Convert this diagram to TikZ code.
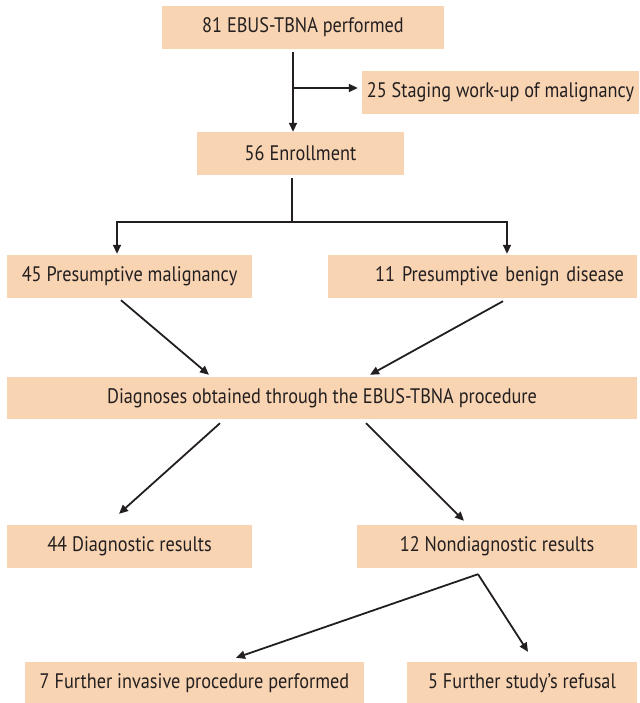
\documentclass[tikz,border=0pt]{standalone}
\usepackage{fontspec}
\setmainfont[FakeStretch=0.87]{PT Sans}
\usetikzlibrary{arrows.meta}
\definecolor{peach}{RGB}{248,212,178}
\definecolor{ink}{RGB}{35,31,32}
\tikzset{
  box/.style={fill=peach, draw=none, minimum height=43pt, inner sep=0pt, text=ink, font=\fontsize{21}{23}\selectfont, anchor=center},
  arr/.style={draw=ink, line width=1.8pt, -{Triangle[length=9pt,width=8pt]}},
  ln/.style={draw=ink, line width=1.8pt}
}
\begin{document}
\begin{tikzpicture}[x=1pt,y=-1pt]
\useasboundingbox (0,0) rectangle (639,703);
\node[box, minimum width=282pt] (b1) at (303,27.5) {81 EBUS-TBNA performed};
\node[box, minimum width=277pt] (stg) at (500.5,92.5) {25 Staging work-up of malignancy};
\node[box, minimum width=207pt] (enr) at (300.5,153.5) {56 Enrollment};
\node[box, minimum width=245pt] (m45) at (129.5,276.5) {45 Presumptive malignancy};
\node[box, minimum width=309pt, text width=283pt, inner xsep=13pt, align=right] (b11) at (482.5,276.5) {11 Presumptive benign disease};
\node[box, minimum width=630pt, minimum height=42pt] (dg) at (322,398) {Diagnoses obtained through the EBUS-TBNA procedure};
\node[box, minimum width=245pt] (d44) at (129.5,546.5) {44 Diagnostic results};
\node[box, minimum width=280pt] (n12) at (497,546.5) {12 Nondiagnostic results};
\node[box, minimum width=339pt] (f7) at (194.5,683.5) {7 Further invasive procedure performed};
\node[box, minimum width=230pt] (r5) at (522,683.5) {5 Further study’s refusal};

\coordinate (j1) at (293,88);
\coordinate (j2) at (292,222);
\draw[arr] ([xshift=-10pt,yshift=-3pt]b1.south) -- ([xshift=-7.5pt]enr.north);
\draw[arr, shorten >=4pt] (j1) -- (j1 -| stg.west);
\draw[ln] ([xshift=-8.5pt,yshift=-3pt]enr.south) -- (j2);
\draw[arr, shorten >=1pt] (j2) -| ([xshift=-12.5pt]m45.north);
\draw[arr, shorten >=1pt] (j2) -| ([xshift=24.5pt]b11.north);
\draw[arr] ([xshift=-8.5pt,yshift=-2pt]m45.south) -- ([xshift=-113pt,yshift=2pt]dg.north);
\draw[arr] ([xshift=20.5pt,yshift=-3pt]b11.south) -- ([xshift=48pt,yshift=2pt]dg.north);
\draw[arr] ([xshift=-102pt,yshift=-4pt]dg.south) -- ([xshift=-10.5pt,yshift=11pt]d44.north);
\draw[arr] ([xshift=44pt,yshift=-4pt]dg.south) -- ([xshift=-33pt,yshift=4pt]n12.north);
\draw[arr] ([xshift=-19pt,yshift=-6pt]n12.south) -- ([xshift=41.5pt,yshift=4pt]f7.north);
\draw[arr] ([xshift=-19pt,yshift=-6pt]n12.south) -- ([xshift=6pt,yshift=10pt]r5.north);
\end{tikzpicture}
\end{document}
